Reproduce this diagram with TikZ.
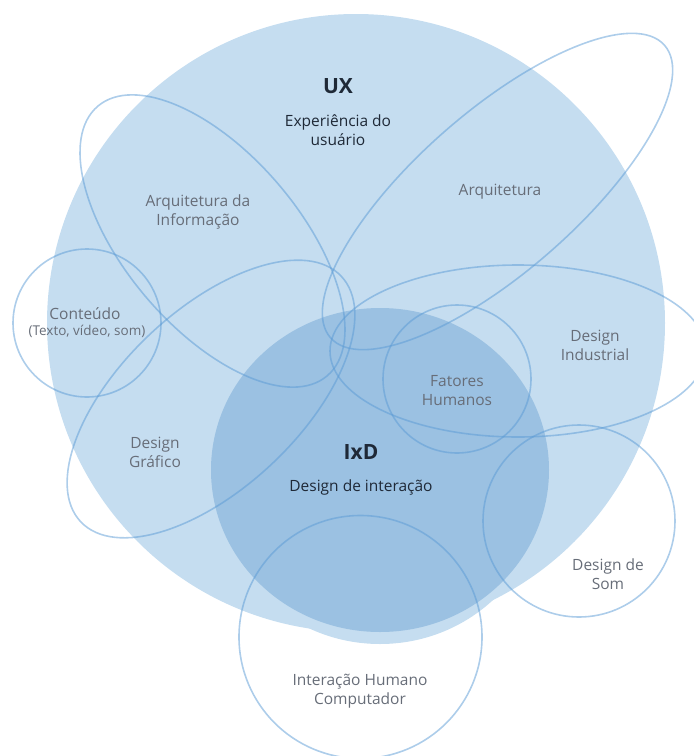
\documentclass[tikz,border=0pt]{standalone}
\usepackage{fontspec}
\setmainfont{Open Sans}
\definecolor{uxfill}{HTML}{C5DDF0}
\definecolor{ixdfill}{HTML}{9BC1E2}
\definecolor{ringblue}{HTML}{5B9BD5}
\definecolor{labelgray}{HTML}{676D78}
\definecolor{titledark}{HTML}{1F2937}
\tikzset{
  outline/.style={draw=ringblue,draw opacity=0.5,line width=1.6pt},
  fieldlabel/.style={text=labelgray,align=center,font=\fontsize{15.5}{19}\selectfont},
  maintitle/.style={text=titledark,font=\fontsize{21}{24}\selectfont\bfseries},
  subtitle/.style={text=titledark,align=center,font=\fontsize{15.5}{19}\selectfont}
}
\begin{document}
\begin{tikzpicture}[x=1pt,y=-1pt]
\useasboundingbox (0,0) rectangle (694,756);

\fill[uxfill] (356,323) circle (309);
\fill[uxfill] (380,482) ellipse (165 and 162);
\fill[ixdfill] (380,470) ellipse (169 and 162);

\draw[outline,rotate around={-49.6:(212.5,241)}] (212.5,241) ellipse (177 and 87);
\draw[outline,rotate around={41.2:(497.5,191.5)}] (497.5,191.5) ellipse (222 and 80);
\draw[outline,rotate around={43.3:(211,399)}] (211,399) ellipse (179 and 89);
\draw[outline] (518,351) ellipse (188 and 86);
\draw[outline] (87,323) circle (74);
\draw[outline] (457,379) circle (74);
\draw[outline] (579,521) circle (96);
\draw[outline] (360.5,637) circle (121.5);

\node[maintitle] (ux) at (338,86) {UX};
\node[subtitle] (uxsub) at (338,130) {Experiência do\\usuário};
\node[maintitle] (ixd) at (361,452) {IxD};
\node[subtitle] (ixdsub) at (361,487) {Design de interação};
\node[fieldlabel] (infoarch) at (198,212) {Arquitetura da\\Informação};
\node[fieldlabel] (arch) at (500,192) {Arquitetura};
\node[fieldlabel] (content) at (85,314) {Conteúdo};
\node[text=labelgray,font=\fontsize{13.5}{15}\selectfont] (contentsub) at (87,331) {(Texto, vídeo, som)};
\node[fieldlabel] (industrial) at (595,345) {Design\\Industrial};
\node[fieldlabel] (human) at (457,391) {Fatores\\Humanos};
\node[fieldlabel] (graphic) at (155,452) {Design\\Gráfico};
\node[fieldlabel] (sound) at (608,574) {Design de\\Som};
\node[fieldlabel] (hci) at (360,691) {Interação Humano\\Computador};
\end{tikzpicture}
\end{document}
